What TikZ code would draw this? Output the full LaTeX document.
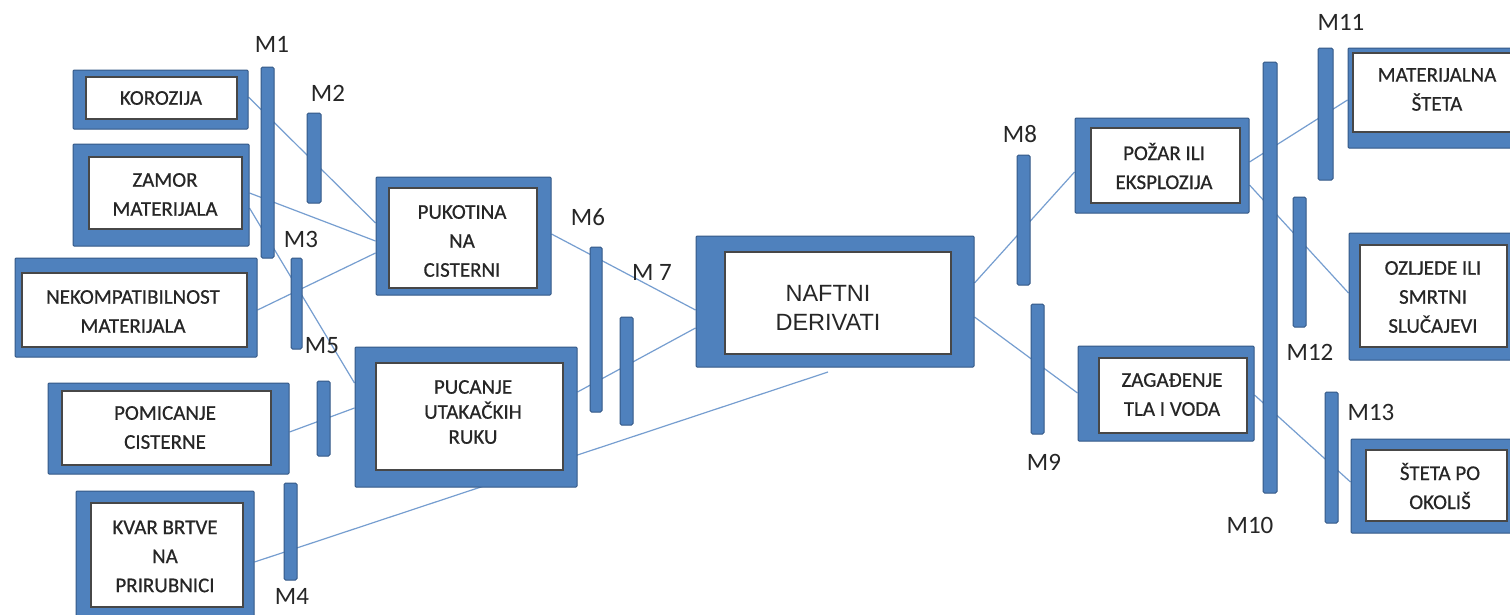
\documentclass[tikz,border=0pt]{standalone}
\usepackage{fontspec}
\setmainfont{Carlito}
\newfontfamily\arialf{Liberation Sans}
\newfontfamily\boxf[FakeBold=0.6]{Carlito}
\definecolor{bfill}{RGB}{79,129,189}
\definecolor{bdraw}{RGB}{52,88,134}
\definecolor{lnk}{RGB}{118,158,208}
\definecolor{txt}{RGB}{38,38,38}
\pgfdeclarelayer{linklayer}
\pgfsetlayers{linklayer,main}
\tikzset{
  outerbox/.style={draw=bdraw, fill=bfill, line width=1pt, inner sep=0pt, rounded corners=1pt},
  innerbox/.style={draw=black!72, fill=white, line width=1.6pt, inner sep=0pt},
  boxtext/.style={align=center, text=txt, inner sep=0pt, font=\boxf\fontsize{21}{29}\selectfont},
  barbox/.style={draw=bdraw, fill=bfill, line width=1pt, rounded corners=1.5pt, inner sep=0pt},
  mlab/.style={font=\fontsize{25}{30}\selectfont, text=txt, inner sep=0pt},
  link/.style={draw=lnk, line width=1.2pt},
}
\begin{document}
\begin{tikzpicture}[x=1pt, y=-1pt]
\useasboundingbox (0,0) rectangle (1510,614);
\clip (0,0) rectangle (1510,614);

% ---------- outer frames
\node[outerbox, minimum width=175, minimum height=59]  (koro)   at (160.5,99.5) {};
\node[outerbox, minimum width=176, minimum height=102] (zamor)  at (161,195) {};
\node[outerbox, minimum width=242, minimum height=99]  (nekomp) at (136,307.5) {};
\node[outerbox, minimum width=241, minimum height=91]  (pomic)  at (168.5,428.5) {};
\node[outerbox, minimum width=178, minimum height=129] (kvar)   at (165,555.5) {};
\node[outerbox, minimum width=175, minimum height=118] (pukot)  at (463.5,236) {};
\node[outerbox, minimum width=222, minimum height=140] (pucan)  at (466,417) {};
\node[outerbox, minimum width=278, minimum height=131] (naftni) at (835,301.5) {};
\node[outerbox, minimum width=174, minimum height=95]  (pozar)  at (1162,165.5) {};
\node[outerbox, minimum width=176, minimum height=95]  (zagad)  at (1166,393.5) {};
\node[outerbox, minimum width=177, minimum height=100] (mater)  at (1436.5,98) {};
\node[outerbox, minimum width=176, minimum height=127] (ozlj)   at (1437,296.5) {};
\node[outerbox, minimum width=174, minimum height=94]  (steta)  at (1438,486) {};

% ---------- inner white panels
\node[innerbox, minimum width=151, minimum height=42]  (koro-in)   at (161.5,98) {};
\node[innerbox, minimum width=153, minimum height=72]  (zamor-in)  at (165.5,193) {};
\node[innerbox, minimum width=225, minimum height=74]  (nekomp-in) at (134.5,310) {};
\node[innerbox, minimum width=209, minimum height=74]  (pomic-in)  at (166.5,428) {};
\node[innerbox, minimum width=152, minimum height=104] (kvar-in)   at (167,555) {};
\node[innerbox, minimum width=148, minimum height=100] (pukot-in)  at (463,238) {};
\node[innerbox, minimum width=187, minimum height=107] (pucan-in)  at (469.5,416.5) {};
\node[innerbox, minimum width=226, minimum height=102] (naftni-in) at (838,303) {};
\node[innerbox, minimum width=149, minimum height=75]  (pozar-in)  at (1165.5,165.5) {};
\node[innerbox, minimum width=148, minimum height=75]  (zagad-in)  at (1173,395.5) {};
\node[innerbox, minimum width=167, minimum height=79]  (mater-in)  at (1436.5,92.5) {};
\node[innerbox, minimum width=147, minimum height=102] (ozlj-in)   at (1433.5,296) {};
\node[innerbox, minimum width=141, minimum height=71]  (steta-in)  at (1436.5,485.5) {};

% ---------- texts
\node[boxtext] (koro-t)   at (161,98)      {KOROZIJA};
\node[boxtext] (zamor-t)  at (165,194.5)   {ZAMOR\\MATERIJALA};
\node[boxtext] (nekomp-t) at (133,311.5)   {NEKOMPATIBILNOST\\MATERIJALA};
\node[boxtext] (pomic-t)  at (165,427.5)   {POMICANJE\\CISTERNE};
\node[boxtext] (kvar-t)   at (165,556.5)   {KVAR BRTVE\\NA\\PRIRUBNICI};
\node[boxtext] (pukot-t)  at (462,241)     {PUKOTINA\\NA\\CISTERNI};
\node[boxtext, font=\boxf\fontsize{21}{25}\selectfont] (pucan-t) at (473,412) {PUCANJE\\UTAKAČKIH\\RUKU};
\node[boxtext, font=\arialf\fontsize{23.5}{29}\selectfont] (naftni-t) at (828,307.5) {NAFTNI\\DERIVATI};
\node[boxtext] (pozar-t)  at (1164,166)    {POŽAR ILI\\EKSPLOZIJA};
\node[boxtext] (zagad-t)  at (1172,394.5)  {ZAGAĐENJE\\TLA I VODA};
\node[boxtext] (mater-t)  at (1437,89.5)   {MATERIJALNA\\ŠTETA};
\node[boxtext] (ozlj-t)   at (1433,297)    {OZLJEDE ILI\\SMRTNI\\SLUČAJEVI};
\node[boxtext] (steta-t)  at (1440,486)    {ŠTETA PO\\OKOLIŠ};

% ---------- connectors (on a layer below boxes and bars)
\coordinate (kvarend) at (828,372);
\begin{pgfonlayer}{linklayer}
\fill[white] (0,0) rectangle (1510,614);
\draw[link] (koro.east |- 0,97)    -- (pukot.west |- 0,223);
\draw[link] (zamor.east |- 0,193)  -- (pukot.west |- 0,241);
\draw[link] (zamor.east |- 0,208)  -- (pucan.west |- 0,383);
\draw[link] (nekomp.east |- 0,310) -- (pukot.west |- 0,253);
\draw[link] (pomic.east |- 0,432)  -- (pucan.west |- 0,408);
\draw[link] (kvar.east |- 0,562)   -- (kvarend);
\draw[link] (pukot.east |- 0,234)  -- (naftni.west |- 0,310);
\draw[link] (pucan.east |- 0,392)  -- (naftni.west |- 0,328);
\draw[link] (naftni.east |- 0,283) -- (pozar.west |- 0,172);
\draw[link] (naftni.east |- 0,317) -- (zagad.west |- 0,393);
\draw[link] (pozar.east |- 0,162)  -- (mater.west |- 0,100);
\draw[link] (pozar.east |- 0,185)  -- (ozlj.west |- 0,293);
\draw[link] (zagad.east |- 0,395)  -- (steta.west |- 0,482);
\end{pgfonlayer}

% ---------- barriers
\node[barbox, minimum width=13, minimum height=191] (m1)  at (267.5,162.5) {};
\node[barbox, minimum width=14, minimum height=90]  (m2)  at (314,158) {};
\node[barbox, minimum width=11, minimum height=91]  (m3)  at (296.5,303.5) {};
\node[barbox, minimum width=13, minimum height=75]  (m5)  at (323.5,418.5) {};
\node[barbox, minimum width=13, minimum height=97]  (m4)  at (290.5,531.5) {};
\node[barbox, minimum width=12, minimum height=165] (m6)  at (596,329.5) {};
\node[barbox, minimum width=13, minimum height=108] (m7)  at (626.5,371) {};
\node[barbox, minimum width=13, minimum height=130] (m8)  at (1023.5,220) {};
\node[barbox, minimum width=13, minimum height=130] (m9)  at (1037.5,369) {};
\node[barbox, minimum width=14, minimum height=431] (m10) at (1270,277.5) {};
\node[barbox, minimum width=15, minimum height=132] (m11) at (1325.5,114) {};
\node[barbox, minimum width=13, minimum height=130] (m12) at (1299.5,262) {};
\node[barbox, minimum width=13, minimum height=131] (m13) at (1331.5,457.5) {};

% ---------- barrier labels
\node[mlab] (m1-l)  at (272,44)   {M1};
\node[mlab] (m2-l)  at (328,93)   {M2};
\node[mlab] (m3-l)  at (301,239)  {M3};
\node[mlab] (m5-l)  at (322,346)  {M5};
\node[mlab] (m4-l)  at (292,596)  {M4};
\node[mlab] (m6-l)  at (588,217)  {M6};
\node[mlab] (m7-l)  at (652,272)  {M 7};
\node[mlab] (m8-l)  at (1020,134) {M8};
\node[mlab] (m9-l)  at (1044,462) {M9};
\node[mlab] (m10-l) at (1250,525) {M10};
\node[mlab] (m11-l) at (1341,22)  {M11};
\node[mlab] (m12-l) at (1310,352) {M12};
\node[mlab] (m13-l) at (1371,412) {M13};
\end{tikzpicture}
\end{document}
